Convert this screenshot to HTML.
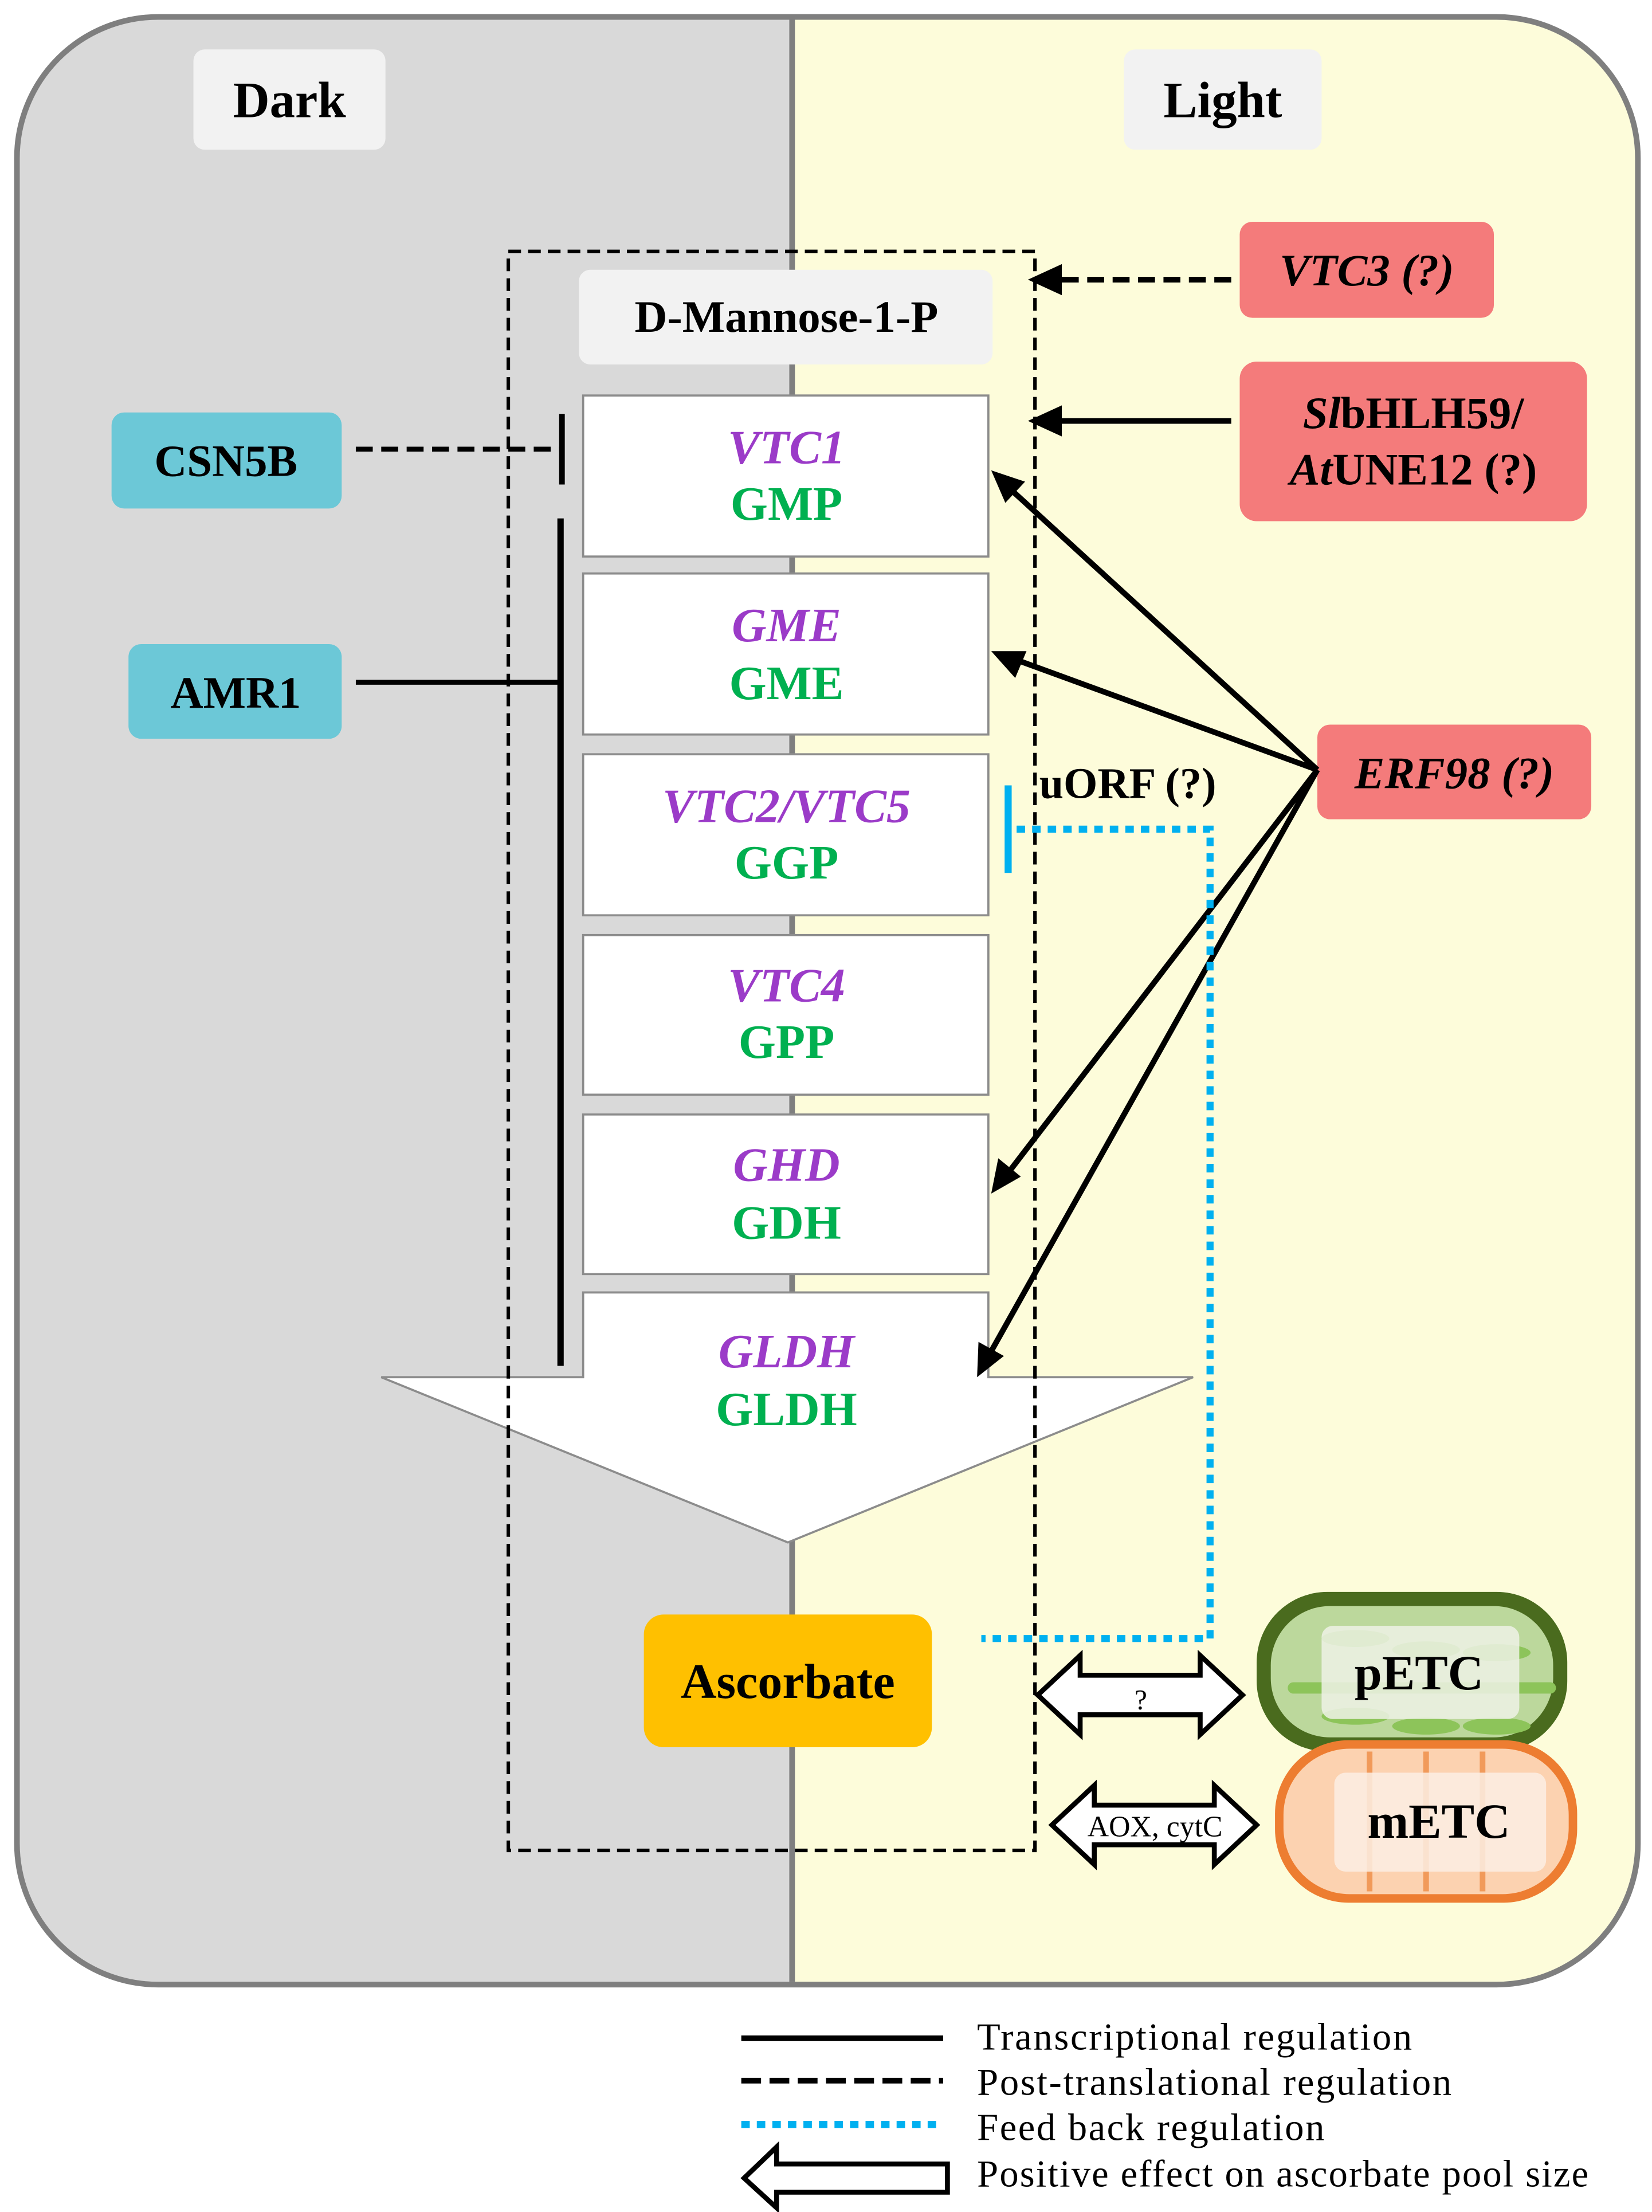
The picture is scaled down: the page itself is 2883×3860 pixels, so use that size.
<!DOCTYPE html>
<html><head><meta charset="utf-8"><style>html,body{margin:0;padding:0;background:#fff}svg{display:block}</style></head>
<body>
<svg xmlns="http://www.w3.org/2000/svg" width="2883" height="3860" viewBox="0 0 1170 1566" preserveAspectRatio="none" font-family="'Liberation Serif', serif">
<defs>
<clipPath id="oc"><rect x="12" y="12" width="1148" height="1393" rx="100"/></clipPath>
</defs>
<g clip-path="url(#oc)">
<rect x="0" y="0" width="561" height="1566" fill="#d9d9d9"/>
<rect x="561" y="0" width="700" height="1566" fill="#fdfcda"/>
</g>
<rect x="12" y="12" width="1148" height="1393" rx="100" fill="none" stroke="#7f7f7f" stroke-width="4"/>
<line x1="561" y1="14" x2="561" y2="1403" stroke="#7f7f7f" stroke-width="4"/>

<rect x="137" y="35" width="136" height="71" rx="8" fill="#f2f2f2"/>
<text x="205" y="83" font-size="36" font-weight="bold" text-anchor="middle">Dark</text>
<rect x="796" y="35" width="140" height="71" rx="8" fill="#f2f2f2"/>
<text x="866" y="83" font-size="36" font-weight="bold" text-anchor="middle">Light</text>

<polygon points="413,915 700,915 700,975 845,975 558,1092 270,975 413,975" fill="#fff" stroke="#8c8c8c" stroke-width="1.5"/>
<g fill="#fff" stroke="#8c8c8c" stroke-width="1.5">
<rect x="413" y="280" width="287" height="114"/>
<rect x="413" y="406" width="287" height="114"/>
<rect x="413" y="534" width="287" height="114"/>
<rect x="413" y="662" width="287" height="113"/>
<rect x="413" y="789" width="287" height="113"/>
</g>
<g font-size="34" font-weight="bold" text-anchor="middle">
<g fill="#9b3bc8" font-style="italic">
<text x="557" y="328">VTC1</text><text x="557" y="454">GME</text><text x="557" y="582">VTC2/VTC5</text>
<text x="557" y="709">VTC4</text><text x="557" y="836">GHD</text><text x="557" y="968">GLDH</text>
</g>
<g fill="#00b050">
<text x="557" y="368">GMP</text><text x="557" y="495">GME</text><text x="557" y="622">GGP</text>
<text x="557" y="749">GPP</text><text x="557" y="877">GDH</text><text x="557" y="1009">GLDH</text>
</g>
</g>

<rect x="360" y="178" width="373" height="1132" fill="none" stroke="#000" stroke-width="2.5" stroke-dasharray="9,5"/>
<rect x="410" y="191" width="293" height="67" rx="8" fill="#f2f2f2"/>
<text x="557" y="235" font-size="32" font-weight="bold" text-anchor="middle">D-Mannose-1-P</text>

<rect x="79" y="292" width="163" height="68" rx="9" fill="#6cc8d7"/>
<text x="160" y="337" font-size="32" font-weight="bold" text-anchor="middle">CSN5B</text>
<rect x="91" y="456" width="151" height="67" rx="9" fill="#6cc8d7"/>
<text x="167" y="501" font-size="32" font-weight="bold" text-anchor="middle">AMR1</text>
<line x1="252" y1="318" x2="397" y2="318" stroke="#000" stroke-width="3.5" stroke-dasharray="12,6"/>
<line x1="398" y1="293" x2="398" y2="343" stroke="#000" stroke-width="4"/>
<line x1="252" y1="483" x2="397" y2="483" stroke="#000" stroke-width="3.5"/>
<line x1="397" y1="367" x2="397" y2="967" stroke="#000" stroke-width="4.5"/>

<rect x="878" y="157" width="180" height="68" rx="9" fill="#f47b7b"/>
<text x="968" y="202" font-size="32" font-weight="bold" font-style="italic" text-anchor="middle">VTC3 (?)</text>
<rect x="878" y="256" width="246" height="113" rx="12" fill="#f47b7b"/>
<text x="1001" y="303" font-size="32" font-weight="bold" text-anchor="middle"><tspan font-style="italic">Sl</tspan>bHLH59/</text>
<text x="1001" y="343" font-size="32" font-weight="bold" text-anchor="middle"><tspan font-style="italic">At</tspan>UNE12 (?)</text>
<rect x="933" y="513" width="194" height="67" rx="9" fill="#f47b7b"/>
<text x="1030" y="558" font-size="32" font-weight="bold" font-style="italic" text-anchor="middle">ERF98 (?)</text>

<g stroke="#000" fill="none">
<line x1="872" y1="198" x2="748" y2="198" stroke-width="4" stroke-dasharray="12,6"/>
<line x1="872" y1="298" x2="748" y2="298" stroke-width="4"/>
<line x1="933" y1="545" x2="712" y2="343" stroke-width="4"/>
<line x1="933" y1="545" x2="714" y2="465" stroke-width="4"/>
<line x1="933" y1="545" x2="712" y2="833" stroke-width="4"/>
<line x1="933" y1="545" x2="699" y2="962" stroke-width="4"/>
</g>
<polygon points="728,198 752,187 752,209" fill="#000"/>
<polygon points="728,298 752,287 752,309" fill="#000"/>
<polygon points="702,333 726,341 712,356" fill="#000"/>
<polygon points="702,461 727,461 719,480" fill="#000"/>
<polygon points="702,845 707,820 723,833" fill="#000"/>
<polygon points="692,975 693,950 711,960" fill="#000"/>

<line x1="714" y1="556" x2="714" y2="618" stroke="#00b0f0" stroke-width="5"/>
<path d="M720,587 H857 V1160 H695" fill="none" stroke="#00b0f0" stroke-width="5" stroke-dasharray="6,5"/>
<text x="736" y="565" font-size="31" font-weight="bold">uORF (?)</text>

<rect x="456" y="1143" width="204" height="94" rx="14" fill="#ffc000"/>
<text x="558" y="1202" font-size="35" font-weight="bold" text-anchor="middle">Ascorbate</text>

<polygon points="735,1200 765,1172 765,1186 850,1186 850,1172 880,1200 850,1228 850,1214 765,1214 765,1228" fill="#fff" stroke="#000" stroke-width="3.5"/>
<text x="808" y="1210" font-size="20" text-anchor="middle">?</text>
<polygon points="745,1292 775,1264 775,1278 860,1278 860,1264 890,1292 860,1320 860,1306 775,1306 775,1320" fill="#fff" stroke="#000" stroke-width="3.5"/>
<text x="818" y="1300" font-size="21" text-anchor="middle">AOX, cytC</text>

<rect x="890" y="1127" width="220" height="113" rx="50" fill="#4a6b1e"/>
<rect x="900" y="1137" width="200" height="93" rx="42" fill="#bcd89c"/>
<g fill="#8dc45a">
<rect x="912" y="1191" width="190" height="8" rx="4"/>
<ellipse cx="960" cy="1160" rx="24" ry="6"/><ellipse cx="1010" cy="1168" rx="24" ry="6"/><ellipse cx="1060" cy="1170" rx="24" ry="6"/>
<ellipse cx="960" cy="1215" rx="24" ry="6"/><ellipse cx="1010" cy="1222" rx="24" ry="6"/><ellipse cx="1060" cy="1222" rx="24" ry="6"/>
</g>
<rect x="936" y="1151" width="140" height="66" rx="8" fill="#eef2e6" opacity="0.85"/>
<text x="1005" y="1196" font-size="35" font-weight="bold" text-anchor="middle">pETC</text>
<rect x="903" y="1232" width="214" height="115" rx="52" fill="#ed7d31"/>
<rect x="909" y="1238" width="202" height="103" rx="47" fill="#fcd2b0"/>
<g stroke="#f19a5a" stroke-width="4">
<line x1="970" y1="1240" x2="970" y2="1339"/><line x1="1010" y1="1240" x2="1010" y2="1339"/><line x1="1050" y1="1240" x2="1050" y2="1339"/>
</g>
<rect x="945" y="1255" width="150" height="70" rx="8" fill="#fbeee4" opacity="0.85"/>
<text x="1019" y="1301" font-size="35" font-weight="bold" text-anchor="middle">mETC</text>

<line x1="525" y1="1443" x2="668" y2="1443" stroke="#000" stroke-width="4"/>
<line x1="525" y1="1473" x2="668" y2="1473" stroke="#000" stroke-width="4" stroke-dasharray="14,6"/>
<line x1="525" y1="1504" x2="668" y2="1504" stroke="#00b0f0" stroke-width="5" stroke-dasharray="6,5"/>
<polygon points="527,1542 550,1520 550,1532 671,1532 671,1552 550,1552 550,1563" fill="#fff" stroke="#000" stroke-width="3.5"/>
<g font-size="27">
<text x="692" y="1451" textLength="308" lengthAdjust="spacing">Transcriptional regulation</text>
<text x="692" y="1483" textLength="336" lengthAdjust="spacing">Post-translational regulation</text>
<text x="692" y="1515" textLength="246" lengthAdjust="spacing">Feed back regulation</text>
<text x="692" y="1548" textLength="433" lengthAdjust="spacing">Positive effect on ascorbate pool size</text>
</g>
</svg>
</body></html>
